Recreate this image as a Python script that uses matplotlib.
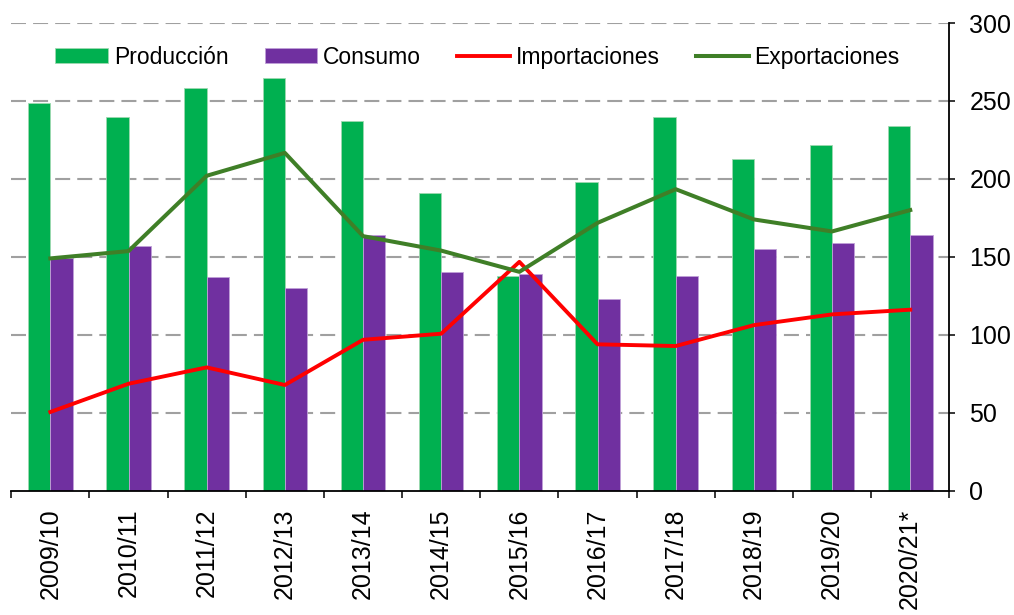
import matplotlib
matplotlib.use("Agg")
import matplotlib.pyplot as plt
import numpy as np

plt.rcParams["font.family"] = ["Liberation Sans", "DejaVu Sans"]

campanas = ["2009/10", "2010/11", "2011/12", "2012/13", "2013/14", "2014/15",
            "2015/16", "2016/17", "2017/18", "2018/19", "2019/20", "2020/21*"]
produccion = [249, 240, 258, 265, 237, 191, 138, 198, 240, 213, 222, 234]
consumo = [149, 157, 137, 130, 164, 140, 139, 123, 138, 155, 159, 164]
importaciones = [50.5, 68.6, 79.1, 67.8, 96.8, 100.7, 146.8, 93.9, 92.8, 106.2, 113.1, 116.1]
exportaciones = [149, 153.7, 202, 216.7, 163.3, 154, 140.4, 171.8, 193.4, 174, 166.3, 180]

x = np.arange(len(campanas))
w = 0.285

fig = plt.figure(figsize=(10.14, 6.15), dpi=100)
ax = fig.add_axes([0.0111, 0.2021, 0.9251, 0.7605])

b1 = ax.bar(x - w, produccion, width=w, align="edge", color="#00B050",
            edgecolor="#9ED9B0", linewidth=0.6, label="Producción", zorder=2)
b2 = ax.bar(x, consumo, width=w, align="edge", color="#7030A0",
            edgecolor="#C0A0D8", linewidth=0.6, label="Consumo", zorder=2)
l1, = ax.plot(x, importaciones, color="#FF0000", lw=2.8, label="Importaciones", zorder=3)
l2, = ax.plot(x, exportaciones, color="#3F7F27", lw=2.9, label="Exportaciones", zorder=3)

ax.set_xlim(-0.5, len(campanas) - 0.5)
ax.set_ylim(0, 300)

# eje y a la derecha
ax.yaxis.tick_right()
ax.set_yticks(np.arange(0, 301, 50))
ax.tick_params(axis="y", direction="out", length=4.5, width=1.1, pad=10,
               labelsize=18, colors="black")
for y in np.arange(50, 301, 50):
    ax.axhline(y, color="#A0A0A0", lw=1.5, linestyle=(0, (7.2, 3.4)), zorder=1)

# eje x: marcas entre campañas, etiquetas centradas
ax.set_xticks(np.arange(-0.5, len(campanas), 1.0))
ax.set_xticklabels([])
ax.tick_params(axis="x", which="major", direction="out", length=5, width=1.1)
ax.set_xticks(x, minor=True)
ax.set_xticklabels(campanas, minor=True, rotation=90, fontsize=18)
ax.tick_params(axis="x", which="minor", length=0, pad=13)

for s in ["left", "top"]:
    ax.spines[s].set_visible(False)
for s in ["right", "bottom"]:
    ax.spines[s].set_linewidth(1.3)
    ax.spines[s].set_color("black")

ax.legend(handles=[b1, b2, l1, l2], loc="center", bbox_to_anchor=(0.497, 0.927),
          ncol=4, frameon=False, fontsize=16.5, handlelength=2.3, handleheight=0.57,
          handletextpad=0.25, columnspacing=1.58, borderpad=0)

fig.savefig("out.png", dpi=100)
